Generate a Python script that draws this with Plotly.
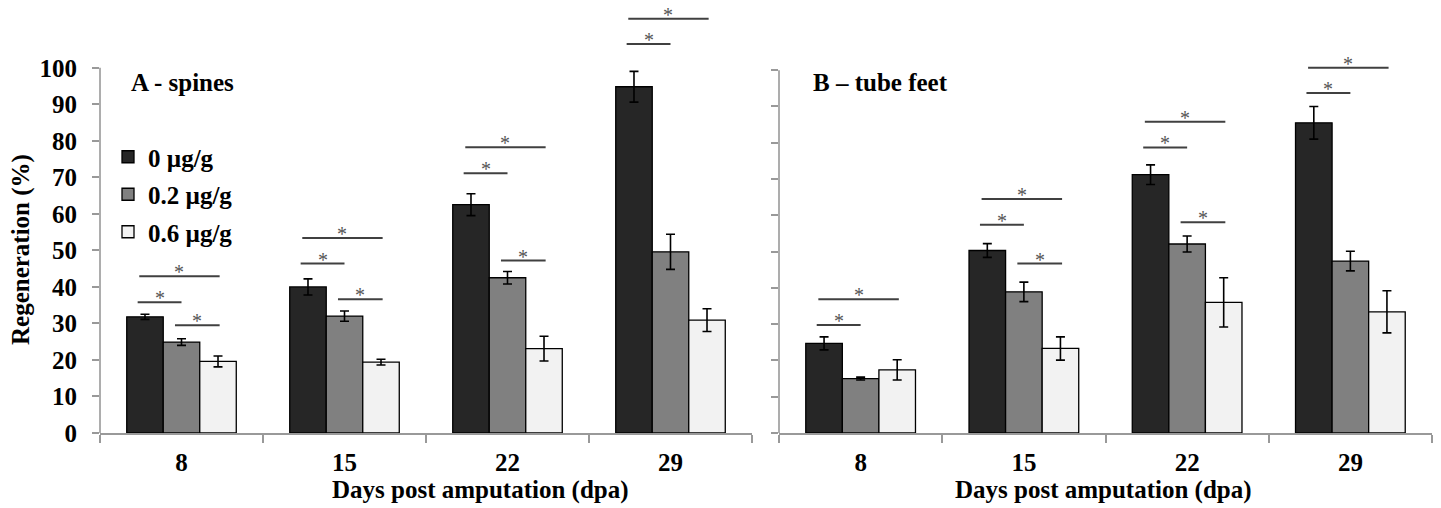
import plotly.graph_objects as go

days = ["8", "15", "22", "29"]
series_names = ["0 µg/g", "0.2 µg/g", "0.6 µg/g"]

# Panel A - spines
spines_0 = [31.8, 40.0, 62.5, 94.8]
spines_02 = [24.9, 32.0, 42.5, 49.6]
spines_06 = [19.6, 19.4, 23.1, 30.9]
spines_0_err = [0.7, 2.2, 3.0, 4.2]
spines_02_err = [0.9, 1.4, 1.7, 4.8]
spines_06_err = [1.5, 0.8, 3.4, 3.1]

# Panel B - tube feet
feet_0 = [24.7, 50.3, 71.2, 85.5]
feet_02 = [15.0, 38.9, 52.1, 47.4]
feet_06 = [17.4, 23.3, 36.0, 33.4]
feet_0_err = [1.8, 1.9, 2.7, 4.5]
feet_02_err = [0.4, 2.7, 2.2, 2.7]
feet_06_err = [2.8, 3.2, 6.8, 5.8]

# significance brackets: (day index, series a, series b, height in %)
sig_spines = [(0, 0, 1, 35.8), (0, 0, 2, 42.9), (0, 1, 2, 29.5),
              (1, 0, 1, 46.4), (1, 0, 2, 53.4), (1, 1, 2, 36.6),
              (2, 0, 1, 71.1), (2, 0, 2, 78.2), (2, 1, 2, 47.2),
              (3, 0, 1, 106.5), (3, 0, 2, 113.4)]
sig_feet = [(0, 0, 1, 29.8), (0, 0, 2, 36.9),
            (1, 0, 1, 57.4), (1, 0, 2, 64.5), (1, 1, 2, 46.7),
            (2, 0, 1, 78.7), (2, 0, 2, 85.8), (2, 1, 2, 58.1),
            (3, 0, 1, 93.7), (3, 0, 2, 100.7)]

colors = ["#262626", "#808080", "#f2f2f2"]
FONT = "Liberation Serif"
AXIS_COLOR = "#999999"
BARGAP = 0.328
W, H = 1441, 508
MT, MB = 2, 75


def px(x):
    return x / W


def py(y):
    return (H - MB - y) / (H - MT - MB)


fig = go.Figure()

panels = [
    ("x", "y", [spines_0, spines_02, spines_06], [spines_0_err, spines_02_err, spines_06_err], True),
    ("x2", "y2", [feet_0, feet_02, feet_06], [feet_0_err, feet_02_err, feet_06_err], False),
]
for xa, ya, vals, errs, show in panels:
    for i in range(3):
        fig.add_trace(go.Bar(
            x=days, y=vals[i], name=series_names[i], xaxis=xa, yaxis=ya,
            marker=dict(color=colors[i], line=dict(color="#000000", width=1.3)),
            error_y=dict(type="data", array=errs[i], visible=True, color="#000000",
                         thickness=1.6, width=4.5),
            showlegend=show, legendgroup=series_names[i],
        ))

bw = (1 - BARGAP) / 3
centers = [-bw, 0.0, bw]
pad = {(0, 1): (-0.045, 0.0), (0, 2): (-0.035, 0.01), (1, 2): (-0.04, 0.01)}

shapes = []
annotations = []
for xr, yr, sigs in [("x", "y", sig_spines), ("x2", "y2", sig_feet)]:
    for d, a, b, h in sigs:
        p0, p1 = pad[(a, b)]
        x0 = d + centers[a] + p0
        x1 = d + centers[b] + p1
        shapes.append(dict(type="line", xref=xr, yref=yr, x0=x0, x1=x1, y0=h, y1=h,
                           line=dict(color="#404040", width=2)))
        annotations.append(dict(xref=xr, yref=yr, x=(x0 + x1) / 2, y=h, text="*",
                                showarrow=False, yanchor="bottom", yshift=-9,
                                font=dict(family=FONT, size=20, color="#555555")))
    # y axis line from 0 to 100
    shapes.append(dict(type="line", xref=xr + " domain", yref=yr, x0=0, x1=0, y0=0, y1=100,
                       line=dict(color=AXIS_COLOR, width=1.6)))

title_font = dict(family=FONT, size=25, color="#000000")
annotations += [
    dict(xref="paper", yref="paper", x=px(129), y=py(83), text="<b>A - spines</b>",
         showarrow=False, xanchor="left", yanchor="middle", font=title_font),
    dict(xref="paper", yref="paper", x=px(811), y=py(83), text="<b>B – tube feet</b>",
         showarrow=False, xanchor="left", yanchor="middle", font=title_font),
    dict(xref="paper", yref="paper", x=px(21), y=py(250), text="<b>Regeneration (%)</b>",
         showarrow=False, textangle=-90, xanchor="center", yanchor="middle", font=title_font),
    dict(xref="paper", yref="paper", x=px(480), y=py(490),
         text="<b>Days post amputation (dpa)</b>",
         showarrow=False, xanchor="center", yanchor="middle", font=title_font),
    dict(xref="paper", yref="paper", x=px(1103), y=py(490),
         text="<b>Days post amputation (dpa)</b>",
         showarrow=False, xanchor="center", yanchor="middle", font=title_font),
]

xaxis_common = dict(type="category", tickson="boundaries", ticks="outside", ticklen=8,
                    tickcolor=AXIS_COLOR, tickwidth=1.6, showline=True, linecolor=AXIS_COLOR,
                    linewidth=1.6, showgrid=False, zeroline=False, range=[-0.5, 3.5],
                    tickfont=dict(family=FONT, size=25, color="#000000", weight="bold"),
                    ticklabelstandoff=6)
yaxis_common = dict(tickvals=list(range(0, 101, 10)), ticks="outside",
                    ticklen=7, tickcolor=AXIS_COLOR, tickwidth=1.6, showline=False,
                    showgrid=False, zeroline=False,
                    tickfont=dict(family=FONT, size=25, color="#000000", weight="bold"),
                    ticklabelstandoff=10)

fig.update_layout(
    width=W, height=H,
    margin=dict(l=0, r=0, t=MT, b=MB),
    plot_bgcolor="white", paper_bgcolor="white",
    barmode="group", bargap=BARGAP, bargroupgap=0,
    xaxis=dict(domain=[px(100), px(752)], anchor="y", **xaxis_common),
    xaxis2=dict(domain=[px(779), px(1432)], anchor="y2", **xaxis_common),
    yaxis=dict(domain=[0, 1], anchor="x", range=[0, 118], showticklabels=True, **yaxis_common),
    yaxis2=dict(domain=[0, 1], anchor="x2", range=[0, 118.8], showticklabels=False, **yaxis_common),
    legend=dict(x=px(108), y=py(134), xanchor="left", yanchor="top",
                bgcolor="rgba(0,0,0,0)", tracegroupgap=2,
                font=dict(family=FONT, size=25, color="#000000", weight="bold")),
    shapes=shapes, annotations=annotations,
)

fig.write_html("out.html", config={"displayModeBar": False},
               post_script="document.body.style.margin='0';")
